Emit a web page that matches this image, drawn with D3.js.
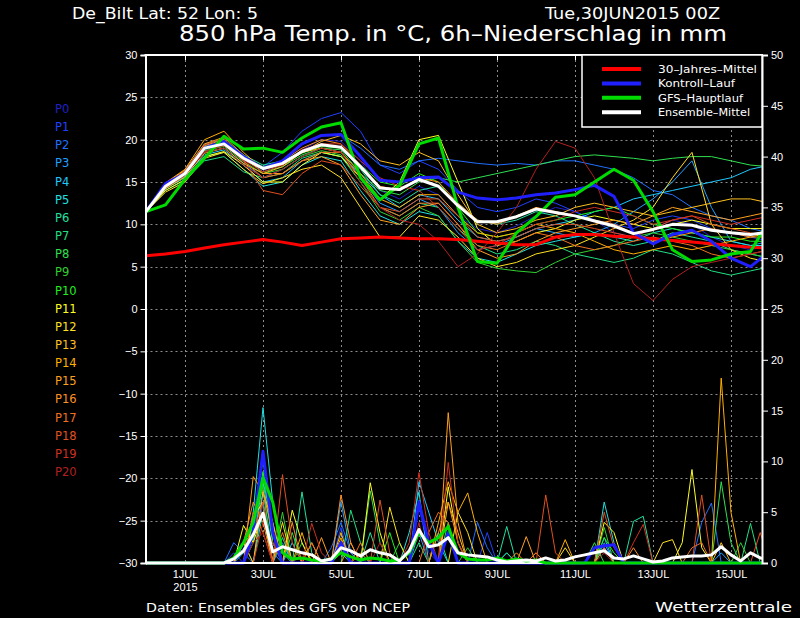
<!DOCTYPE html>
<html lang="de">
<head>
<meta charset="UTF-8">
<title>De_Bilt GFS-Ensemble</title>
<script src="https://d3js.org/d3.v7.min.js"></script>
<style>
  * { margin: 0; padding: 0; }
  body { background: #000; }
  svg { display: block; font-family: "DejaVu Sans", sans-serif; }
  text { fill: #fff; }
  .grid line { stroke: #8c8c8c; stroke-width: 1; stroke-dasharray: 2,3; }
  .axis text { font-size: 11px; }
</style>
</head>
<body>
<script>
// temperature series, 12h steps from 30JUN 00Z (0h .. 384h)
var tempStep = 12;

var climate = [6.3,6.5,6.8,7.2,7.6,7.9,8.2,7.9,7.5,7.9,8.3,8.4,8.5,8.4,8.3,8.3,8.2,8.0,7.8,7.6,7.6,8.5,8.8,8.8,8.6,8.5,8.3,8.1,7.9,7.7,7.5,7.3,7.2];
var control = [11.5,14.8,16.0,19.0,19.8,18.0,16.6,17.5,19.5,20.5,20.6,18.0,15.2,15.0,15.5,15.6,13.8,13.1,12.9,13.1,13.5,13.7,14.1,14.6,13.3,9.0,7.7,8.8,9.3,8.0,6.0,5.0,6.8];
var gfsMain = [11.5,12.3,15.3,17.8,20.4,18.9,19.0,18.5,20.2,21.5,22.0,15.5,12.9,14.6,19.5,20.2,12.0,5.6,5.4,9.0,10.9,13.2,13.5,15.0,16.5,15.2,11.5,7.0,5.6,5.8,6.5,6.8,10.6];
var ensMean = [11.5,14.5,16.0,19.0,19.5,17.8,16.6,17.2,18.6,19.4,19.1,16.8,14.3,14.1,15.3,14.5,12.2,10.3,10.3,10.9,11.8,11.4,11.0,10.4,9.8,8.9,9.4,10.0,9.9,9.3,9.0,8.8,9.1];

var members = [
  [11.5,14.8,16.2,19.3,19.8,18.0,16.4,17.0,18.8,20.0,19.8,17.5,14.0,13.0,14.5,13.5,11.0,9.5,9.0,9.8,11.0,12.0,11.5,10.5,9.0,8.5,9.5,10.5,10.0,8.5,7.5,7.0,7.5],
  [11.5,14.6,16.0,19.0,19.5,17.5,16.8,18.5,21.0,22.5,23.2,21.0,17.0,16.0,17.5,16.5,14.0,12.0,11.5,12.0,13.0,12.5,11.5,10.5,10.0,9.5,10.5,11.0,10.5,9.5,9.0,8.5,8.0],
  [11.5,14.4,15.8,18.8,19.4,17.8,16.5,17.5,19.5,20.5,20.5,19.0,17.0,16.5,17.5,17.8,17.5,17.2,17.0,17.2,17.0,17.5,17.5,17.0,16.5,15.5,14.0,13.5,12.0,11.0,10.5,9.5,9.0],
  [11.5,14.5,16.1,18.5,19.0,17.2,15.5,16.5,18.0,19.0,18.5,15.5,12.5,11.5,13.0,12.0,9.0,7.0,7.5,8.5,9.5,9.0,8.5,9.0,10.0,11.5,13.0,15.0,17.5,12.0,8.0,7.5,8.0],
  [11.5,14.3,15.7,18.2,18.8,17.0,15.0,15.5,17.5,18.5,18.0,16.0,13.5,12.0,13.5,13.0,10.5,8.5,8.0,8.5,9.5,10.0,10.5,11.5,12.0,13.0,13.5,14.0,14.5,15.0,15.5,16.5,17.0],
  [11.5,14.2,15.5,18.0,18.5,16.5,14.5,15.0,17.0,18.0,17.5,14.0,11.0,10.0,11.5,11.0,8.0,6.0,5.5,6.5,7.5,8.0,8.5,9.0,8.5,8.0,9.0,9.5,9.0,8.5,8.0,7.5,7.5],
  [11.5,14.7,16.3,19.5,20.0,18.2,17.0,17.5,18.5,19.5,19.0,16.5,13.5,12.5,14.0,14.5,12.5,10.5,10.0,10.5,11.5,11.0,10.0,9.0,8.0,7.5,8.0,9.0,8.5,8.0,7.0,6.5,6.0],
  [11.5,14.0,15.2,17.5,18.0,16.2,15.5,16.0,17.8,18.5,18.0,15.0,12.0,11.0,12.5,12.0,9.5,7.5,6.5,7.0,8.0,7.5,6.5,6.0,5.5,6.0,7.0,6.5,5.5,4.5,4.0,4.5,5.0],
  [11.5,14.6,16.0,19.0,19.6,17.8,16.2,16.8,18.2,19.0,18.8,16.0,14.0,13.5,15.0,15.5,15.0,15.5,16.0,16.5,17.0,17.5,18.0,18.2,18.0,17.8,17.5,17.8,18.0,18.0,17.5,17.0,16.8],
  [11.5,14.4,15.9,18.7,19.2,17.4,16.0,16.5,18.0,18.7,18.2,15.0,11.5,10.5,12.0,11.0,8.0,5.5,4.8,4.5,4.3,5.5,6.5,7.0,7.5,8.5,9.0,8.5,8.0,7.5,7.0,6.5,6.0],
  [11.5,14.5,16.1,19.2,19.7,18.0,16.8,17.2,18.4,19.2,19.0,17.0,15.0,14.5,16.0,15.0,12.0,9.0,8.5,9.0,10.0,10.5,11.0,11.5,12.0,11.0,10.0,9.5,9.0,8.5,8.5,8.0,8.0],
  [11.5,14.0,15.3,18.0,18.6,17.0,15.0,15.0,17.0,18.5,18.0,15.5,13.0,15.0,20.0,20.5,15.0,9.5,7.5,8.0,9.0,9.5,10.5,11.0,10.5,10.0,9.5,10.0,10.5,10.0,9.5,9.5,9.5],
  [11.5,13.8,15.0,17.8,18.5,16.5,14.8,15.5,16.5,17.0,15.5,12.0,8.5,8.5,11.0,10.5,8.5,6.0,5.0,5.5,6.5,7.0,7.5,8.5,9.5,10.5,12.0,15.5,18.5,10.0,7.0,6.0,5.5],
  [11.5,14.2,15.6,18.4,19.0,17.2,16.0,16.8,18.5,19.8,20.5,19.5,17.5,17.0,18.5,17.5,13.5,10.0,9.0,9.5,10.5,11.0,12.0,12.5,12.0,11.5,11.0,11.5,12.0,12.5,13.0,13.0,12.5],
  [11.5,14.9,16.5,20.0,21.0,18.5,16.5,17.0,18.5,19.0,18.5,16.0,13.0,12.0,13.5,13.5,11.0,9.0,8.5,9.0,10.0,9.5,9.0,8.0,7.0,6.5,7.0,7.5,7.0,7.5,8.0,8.5,9.0],
  [11.5,14.8,16.4,19.5,20.3,18.2,16.0,16.0,17.5,18.0,17.0,13.5,10.5,10.0,12.0,12.5,10.0,7.0,6.0,6.5,8.0,9.0,9.5,10.0,10.5,10.0,11.0,12.0,11.5,11.0,10.5,11.0,11.5],
  [11.5,14.6,16.2,19.3,20.0,17.8,16.6,17.5,19.0,20.0,19.5,17.0,14.5,14.0,15.5,15.0,12.5,10.5,10.0,11.0,12.0,11.5,11.0,10.5,10.0,9.0,8.0,8.5,9.0,9.5,9.0,8.5,8.5],
  [11.5,14.5,15.9,18.9,19.5,17.5,15.5,16.0,17.5,18.5,18.5,15.5,12.0,11.0,12.5,12.5,10.0,7.5,7.0,8.0,9.0,8.5,7.5,7.0,7.5,8.0,8.5,8.0,7.5,6.5,6.0,6.5,7.0],
  [11.5,14.7,16.3,19.4,20.2,17.5,14.0,13.5,16.0,17.5,17.0,14.5,12.0,11.5,13.0,13.0,11.0,8.5,8.0,8.5,9.5,10.0,10.0,9.5,9.0,8.5,9.5,10.5,11.0,10.0,9.5,9.0,8.5],
  [11.5,14.3,15.8,18.6,19.3,17.6,16.2,17.0,18.8,19.5,19.5,17.5,15.5,14.5,14.0,12.0,9.5,7.0,7.5,9.0,10.0,10.5,11.5,12.0,11.5,11.0,10.0,10.5,11.0,10.5,10.0,10.5,11.0],
  [11.5,14.4,15.8,18.5,19.0,17.0,15.5,16.5,18.0,19.0,18.5,15.0,12.0,10.5,10.0,8.0,5.0,6.5,9.0,12.0,16.5,19.8,19.0,15.5,9.0,3.0,1.0,3.5,5.0,5.5,6.0,6.5,7.0]
];

// 6h precipitation: mean as full series, the runs as [hour, mm] (other steps 0 mm)
var precStep = 6;
var precMean = [0,0,0,0,0,0,0,0,0,0.4,1.2,2.8,4.9,1.1,1.6,1.3,1.0,0.8,0.2,0.4,1.5,1.2,0.7,1.3,1.0,0.8,0.2,1.2,3.3,1.6,1.8,2.5,1.0,0.8,0.7,0.6,0.3,0.1,0.2,0.3,0.2,0.5,0.2,0.3,0.6,0.8,1.0,1.2,0.5,0.4,0.7,0.4,0.1,0.2,0.5,0.6,0.7,0.7,0.8,1.6,0.8,0.2,1.0,0.5,0.3];
var precControl = [[66,3],[72,11],[78,3],[120,2],[168,6],[174,2],[186,3],[276,1.5],[282,1.7],[288,1.8]];
var precGfs = [[54,0.5],[60,2],[66,4],[72,8.4],[78,6],[84,1],[90,0.4],[96,0.5],[102,0.3],[108,0.2],[114,0.4],[120,1],[126,0.6],[132,0.3],[138,0.5],[144,0.4],[150,0.2],[156,0.3],[162,1],
               [168,3],[174,2],[180,2.5],[186,3.6],[192,1],[198,0.4],[204,0.3],[210,0.3],[216,0.5],[222,0.2],[228,0.4],[234,0.2],[240,0.3]];
var precMembers = [
  [[60,1.5],[66,3],[72,9],[78,2],[120,2],[168,5.5],[174,1],[282,1.5],[288,1]],
  [[54,1],[66,4],[72,11],[78,3],[96,1],[120,3.5],[168,6.2],[174,2],[210,3],[276,1.5],[282,1.5]],
  [[54,2],[60,1],[72,6],[84,2],[114,1.5],[120,4],[126,1],[204,4],[210,1.5],[342,4],[348,5.9]],
  [[66,2.5],[72,7],[78,1],[120,6],[126,1],[168,3],[222,1],[282,2],[354,1]],
  [[60,1],[66,3],[72,8],[78,4],[90,2],[168,8],[174,5],[180,2],[282,2.5]],
  [[66,5],[72,15.3],[78,6],[84,1],[96,1],[162,3],[168,7],[282,6],[288,2]],
  [[60,2],[72,5],[84,2.5],[96,7],[102,1],[138,3],[222,3.6],[300,4.1],[306,4.6]],
  [[66,2],[72,8],[78,2],[126,5.2],[132,2],[168,2],[180,3],[222,1],[372,3.9]],
  [[60,2],[66,3],[72,10.3],[78,2],[90,3],[138,7.1],[144,2],[276,2],[354,8],[360,2]],
  [[66,4],[72,7.5],[84,5],[96,2],[156,2],[198,1.5],[282,3.5],[366,2]],
  [[66,3],[72,9],[78,3],[120,1],[150,3],[186,4],[282,2.5],[288,1]],
  [[60,3.7],[66,2],[72,5],[90,5.2],[96,2],[138,7.9],[144,3],[186,7.5],[192,2],[282,4],[288,3],[330,2],[336,9.2],[342,1.5]],
  [[66,4.5],[72,6],[84,4],[150,5.5],[156,2],[192,5],[198,3],[258,1.5],[318,2],[324,2.3]],
  [[60,2],[72,7],[78,4],[102,2],[120,3],[132,1],[186,6],[192,3],[240,1],[354,2]],
  [[66,3],[72,5],[96,3],[120,2.5],[180,4],[186,8],[192,5],[198,6.9],[204,3],[258,2.3],[354,18.2],[360,5]],
  [[66,8.5],[72,7],[78,3],[108,2.5],[126,2],[186,14.8],[192,4],[234,2.6],[282,1.5]],
  [[60,2],[66,6],[72,4],[90,4],[120,6.7],[126,2],[180,3],[186,6],[192,2],[228,1],[300,1.5]],
  [[66,5],[72,3],[84,3],[102,2],[132,2],[174,3],[180,5],[186,4],[240,1],[336,1.5],[342,2]],
  [[66,3],[72,6],[84,8.7],[90,2],[144,6.2],[150,1],[246,6.7],[252,1],[282,5],[288,1.5],[342,6.7],[378,3]],
  [[72,4],[78,2],[102,3.9],[108,1],[162,2],[168,8.9],[174,3],[186,9.9],[192,2],[300,2],[306,3.8]],
  [[66,2],[72,3],[96,1],[144,2],[168,4],[186,3],[282,1]]
];

var memberNames = d3.range(21).map(function(i) { return "P" + i; });
var memberColors = ["#2020c8","#2040ff","#2070ff","#20a0ff","#20c8ff","#20e0e0","#20e0a0","#20e080","#30e050","#30d030","#20f020",
                    "#ffff20","#ffe020","#ffc020","#ffb000","#ffa020","#ff9020","#f07020","#e05020","#d03020","#b02020"];

var xTickHours = [24,72,120,168,216,264,312,360];
var xTickLabels = ["1JUL","3JUL","5JUL","7JUL","9JUL","11JUL","13JUL","15JUL"];
var tempTicks = d3.range(-30, 31, 5);
var precTicks = d3.range(0, 51, 5);

var legendNames = ["30\u2013Jahres\u2013Mittel","Kontroll\u2013Lauf","GFS\u2013Hauptlauf","Ensemble\u2013Mittel"];
var legendColors = ["#ff0000","#2020ff","#00dc00","#ffffff"];
var legendTextW = [99, 77, 85, 92];

var width = 800, height = 618;
var plotL = 145.5, plotR = 762, plotT = 55, plotB = 563;

var x = d3.scaleLinear().domain([0, 379.1]).range([146, 762]);
var yT = d3.scaleLinear().domain([-30, 30]).range([plotB, plotT]);
var yP = d3.scaleLinear().domain([0, 50]).range([plotB, plotT]);

var svg = d3.select("body").append("svg")
    .attr("width", width)
    .attr("height", height)
    .style("background", "#000");

svg.append("clipPath").attr("id", "plot")
  .append("rect")
    .attr("x", plotL).attr("y", plotT)
    .attr("width", plotR - plotL).attr("height", plotB - plotT + 2);

// grid
var grid = svg.append("g").attr("class", "grid");
grid.selectAll(".h").data(tempTicks.filter(function(d) { return d > -30 && d < 30; }))
  .enter().append("line")
    .attr("x1", plotL).attr("x2", plotR)
    .attr("y1", function(d) { return Math.round(yT(d)) + 0.5; })
    .attr("y2", function(d) { return Math.round(yT(d)) + 0.5; });
grid.selectAll(".v").data(xTickHours)
  .enter().append("line")
    .attr("y1", plotT).attr("y2", plotB)
    .attr("x1", function(d) { return Math.round(x(d)) + 0.5; })
    .attr("x2", function(d) { return Math.round(x(d)) + 0.5; });

var plot = svg.append("g").attr("clip-path", "url(#plot)");

var tempLine = d3.line()
    .x(function(d, i) { return x(i * tempStep); })
    .y(function(d) { return yT(d); });

function precSeries(events) {
  var vals = precMean.map(function() { return 0; });
  events.forEach(function(e) { vals[e[0] / precStep] = e[1]; });
  return vals;
}
var precLine = d3.line()
    .x(function(d, i) { return x(i * precStep); })
    .y(function(d) { return yP(d); });

// members
plot.selectAll(".member")
  .data(members)
  .enter().append("path")
    .attr("d", tempLine)
    .attr("fill", "none")
    .attr("stroke", function(d, i) { return memberColors[i]; })
    .attr("stroke-width", 1);

plot.selectAll(".pmember")
  .data(precMembers)
  .enter().append("path")
    .attr("d", function(d) { return precLine(precSeries(d)); })
    .attr("fill", "none")
    .attr("stroke", function(d, i) { return memberColors[i]; })
    .attr("stroke-width", 1);

function thickLine(path, color) {
  plot.append("path")
    .attr("d", path)
    .attr("fill", "none")
    .attr("stroke", color)
    .attr("stroke-width", 3)
    .attr("stroke-linejoin", "round");
}

thickLine(tempLine(climate), legendColors[0]);
thickLine(tempLine(control), legendColors[1]);
thickLine(precLine(precSeries(precControl)), legendColors[1]);

// bottom frame line, under the main run and the mean
plot.append("line").attr("x1", plotL - 1).attr("x2", plotR + 1).attr("y1", plotB).attr("y2", plotB)
    .attr("stroke", "#fff").attr("stroke-width", 2);

thickLine(tempLine(gfsMain), legendColors[2]);
thickLine(precLine(precSeries(precGfs)), legendColors[2]);
thickLine(tempLine(ensMean), legendColors[3]);
thickLine(precLine(precMean), legendColors[3]);

// axes
var axL = svg.append("g").attr("class", "axis")
    .attr("transform", "translate(" + plotL + ",0)")
    .call(d3.axisLeft(yT).tickValues(tempTicks).tickSize(5).tickPadding(3));
var axR = svg.append("g").attr("class", "axis")
    .attr("transform", "translate(" + plotR + ",0)")
    .call(d3.axisRight(yP).tickValues(precTicks).tickSize(6).tickPadding(3));
var axB = svg.append("g").attr("class", "axis")
    .attr("transform", "translate(0," + plotB + ")")
    .call(d3.axisBottom(x).tickValues(xTickHours).tickSize(0).tickPadding(7)
      .tickFormat(function(d, i) { return xTickLabels[i]; }));
axB.select(".domain").remove();
axB.select(".tick text").clone()
    .attr("dy", "1.9em")
    .text("2015");
[axL, axR].forEach(function(a) {
  a.select(".domain").attr("stroke", "#fff").attr("stroke-width", 2);
  a.selectAll(".tick line").attr("stroke", "#fff");
  a.selectAll("text").attr("fill", "#fff");
});
axB.selectAll("text").attr("fill", "#fff");

// frame top
svg.append("line").attr("x1", plotL - 1).attr("x2", plotR + 1).attr("y1", plotT).attr("y2", plotT)
    .attr("stroke", "#fff").attr("stroke-width", 2);
svg.selectAll(".ttick").data(xTickHours).enter().append("line")
    .attr("x1", function(d) { return Math.round(x(d)) + 0.5; })
    .attr("x2", function(d) { return Math.round(x(d)) + 0.5; })
    .attr("y1", plotT).attr("y2", plotT + 5)
    .attr("stroke", "#fff");

// legend
var leg = svg.append("g");
leg.append("rect")
    .attr("x", 582).attr("y", plotT).attr("width", plotR - 582).attr("height", 72)
    .attr("fill", "#000").attr("stroke", "#fff").attr("stroke-width", 1.5);
legendNames.forEach(function(n, i) {
  var yy = 69 + i * 14.4;
  leg.append("line").attr("x1", 602).attr("x2", 641).attr("y1", yy).attr("y2", yy)
      .attr("stroke", legendColors[i]).attr("stroke-width", 4);
  leg.append("text").attr("x", 658).attr("y", yy + 4)
      .attr("font-size", "11px")
      .attr("textLength", legendTextW[i]).attr("lengthAdjust", "spacingAndGlyphs")
      .text(n);
});

// member labels
svg.selectAll(".plab").data(memberNames).enter().append("text")
    .attr("x", 55)
    .attr("y", function(d, i) { return 113 + i * 18.15; })
    .attr("font-size", "11.5px")
    .style("fill", function(d, i) { return memberColors[i]; })
    .text(function(d) { return d; });

// titles
svg.append("text").attr("x", 72).attr("y", 19).attr("font-size", "15px")
    .attr("textLength", 186).attr("lengthAdjust", "spacingAndGlyphs")
    .text("De_Bilt  Lat: 52 Lon: 5");
svg.append("text").attr("x", 545).attr("y", 19).attr("font-size", "15px")
    .attr("textLength", 175).attr("lengthAdjust", "spacingAndGlyphs")
    .text("Tue,30JUN2015 00Z");
svg.append("text").attr("x", 179).attr("y", 41).attr("font-size", "22px")
    .attr("textLength", 548).attr("lengthAdjust", "spacingAndGlyphs")
    .text("850 hPa Temp. in \u00b0C, 6h\u2013Niederschlag in mm");
svg.append("text").attr("x", 146).attr("y", 612).attr("font-size", "12px")
    .attr("textLength", 264).attr("lengthAdjust", "spacingAndGlyphs")
    .text("Daten: Ensembles des GFS von NCEP");
svg.append("text").attr("x", 655).attr("y", 612).attr("font-size", "14px")
    .attr("textLength", 137).attr("lengthAdjust", "spacingAndGlyphs")
    .text("Wetterzentrale");
</script>
</body>
</html>
